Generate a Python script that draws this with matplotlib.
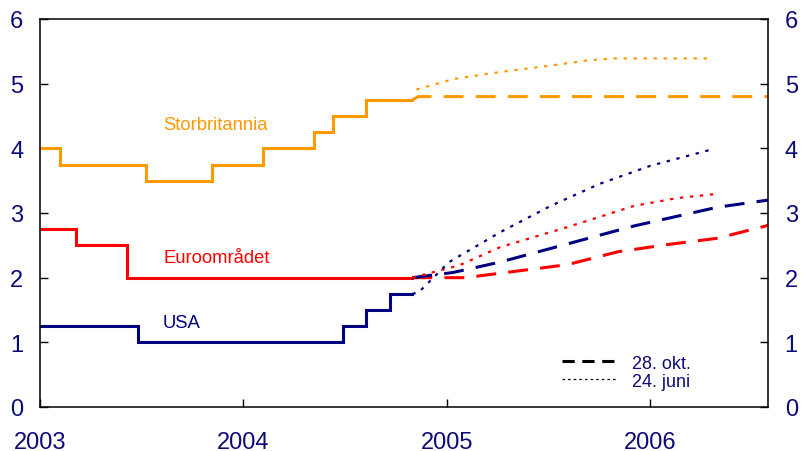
import matplotlib.pyplot as plt
from matplotlib.lines import Line2D

plt.rcParams['font.family'] = ['Liberation Sans', 'DejaVu Sans']

NAVY = '#000080'
ORANGE = '#FF9900'
RED = '#FF0000'
TEXT = '#0B0B7A'

# Policy rates, step changes (fractional year, percent)
uk_x = [2003.0, 2003.10, 2003.52, 2003.847, 2004.094, 2004.348, 2004.441, 2004.60, 2004.83]
uk_y = [4.0, 3.75, 3.5, 3.75, 4.0, 4.25, 4.5, 4.75, 4.75]
euro_x = [2003.0, 2003.177, 2003.426, 2004.83]
euro_y = [2.75, 2.5, 2.0, 2.0]
usa_x = [2003.0, 2003.48, 2004.49, 2004.60, 2004.72, 2004.83]
usa_y = [1.25, 1.0, 1.25, 1.5, 1.75, 1.75]

# Market expectations 28. okt.
uk_okt_x = [2004.83, 2004.86, 2006.58]
uk_okt_y = [4.75, 4.8, 4.8]
usa_okt_x = [2004.83, 2005.03, 2005.26, 2005.59, 2005.92, 2006.33, 2006.58]
usa_okt_y = [2.0, 2.08, 2.24, 2.52, 2.80, 3.09, 3.20]
euro_okt_x = [2004.83, 2005.09, 2005.59, 2005.84, 2006.08, 2006.33, 2006.58]
euro_okt_y = [2.0, 2.0, 2.20, 2.40, 2.51, 2.61, 2.81]

# Market expectations 24. juni
uk_jun_x = [2004.85, 2005.03, 2005.26, 2005.51, 2005.69, 2005.82, 2006.29]
uk_jun_y = [4.91, 5.07, 5.18, 5.28, 5.36, 5.39, 5.39]
usa_jun_x = [2004.83, 2004.86, 2005.01, 2005.26, 2005.51, 2005.75, 2006.0, 2006.31]
usa_jun_y = [1.75, 1.77, 2.24, 2.70, 3.11, 3.45, 3.73, 3.99]
euro_jun_x = [2004.83, 2005.06, 2005.26, 2005.59, 2005.92, 2006.13, 2006.31]
euro_jun_y = [2.0, 2.19, 2.47, 2.78, 3.11, 3.23, 3.29]

years = [2003, 2004, 2005, 2006]
yticks = [0, 1, 2, 3, 4, 5, 6]

fig = plt.figure(figsize=(8.02, 4.52), dpi=100)
ax = fig.add_axes([40 / 802, 44 / 452, 728 / 802, 388 / 452])

solid = dict(lw=2.2, drawstyle='steps-post', solid_joinstyle='miter')
ax.plot(uk_x, uk_y, color=ORANGE, **solid)
ax.plot(euro_x, euro_y, color=RED, **solid)
ax.plot(usa_x, usa_y, color=NAVY, **solid)

dash = dict(lw=2.2, dashes=(6.5, 4))
ax.plot(uk_okt_x, uk_okt_y, color=ORANGE, **dash)
ax.plot(euro_okt_x, euro_okt_y, color=RED, **dash)
ax.plot(usa_okt_x, usa_okt_y, color=NAVY, **dash)

dot = dict(lw=1.6, dashes=(1.5, 3))
ax.plot(uk_jun_x, uk_jun_y, color=ORANGE, **dot)
ax.plot(euro_jun_x, euro_jun_y, color=RED, **dot)
ax.plot(usa_jun_x, usa_jun_y, color=NAVY, **dot)

ax.text(2003.605, 4.37, 'Storbritannia', color=ORANGE, fontsize=13.3, va='center')
ax.text(2003.605, 2.31, 'Euroområdet', color=RED, fontsize=13.3, va='center')
ax.text(2003.605, 1.31, 'USA', color=NAVY, fontsize=13.3, va='center')

ax.set_xlim(2003.0, 2006.578)
ax.set_ylim(0, 6)
ax.set_xticks(years)
ax.set_xticklabels([str(y) for y in years])
ax.set_yticks(yticks)

ax.tick_params(axis='y', direction='in', length=6, width=1, labelsize=17,
               labelcolor=TEXT, pad=12, left=True, right=True,
               labelleft=True, labelright=True)
ax.tick_params(axis='x', direction='in', length=6, width=1, labelsize=17,
               labelcolor=TEXT, pad=17)
for s in ax.spines.values():
    s.set_linewidth(1.1)

handles = [Line2D([], [], color='black', lw=2.2, dashes=(4, 2.5)),
           Line2D([], [], color='black', lw=0.9, dashes=(2, 2.5))]
leg = ax.legend(handles, ['28. okt.', '24. juni'], loc='upper left',
                bbox_to_anchor=(0.717, 0.135), frameon=False, fontsize=13,
                handlelength=3.1, handletextpad=0.8, labelspacing=0.05,
                borderpad=0, borderaxespad=0)
for t in leg.get_texts():
    t.set_color(TEXT)

fig.savefig('out.png', dpi=100)
